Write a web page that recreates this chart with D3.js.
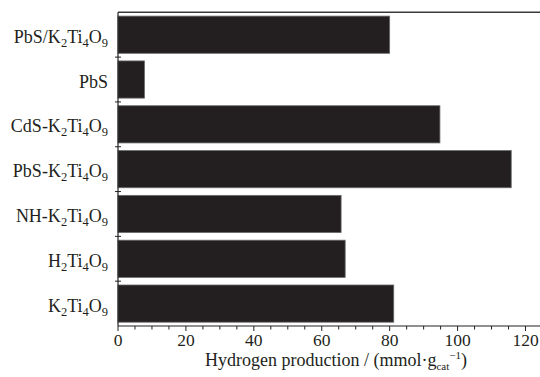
<!DOCTYPE html>
<html><head><meta charset="utf-8">
<script src="https://cdn.jsdelivr.net/npm/d3@7"></script>
<style>html,body{margin:0;padding:0;background:#fff;}svg{display:block;}</style>
</head><body>
<svg id="c" width="540" height="377"></svg>
<script>
const categories = ["PbS/K_2Ti_4O_9", "PbS", "CdS-K_2Ti_4O_9", "PbS-K_2Ti_4O_9", "NH-K_2Ti_4O_9", "H_2Ti_4O_9", "K_2Ti_4O_9"];
const values = [80, 7.8, 94.8, 115.8, 65.7, 66.9, 81.2];
const xTicks = [0, 20, 40, 60, 80, 100, 120];
const xMinorTicks = d3.range(0, 121, 5);
const xTitle = "Hydrogen production / (mmol·g";

(function () {
const svg = d3.select("#c");
const font = "'Liberation Serif','Times New Roman',serif";
const mLeft = 118, mRight = 540, mTop = 12.3, mBottom = 326;
const x = d3.scaleLinear().domain([0, 120]).range([mLeft, 525.5]);
const y = d3.scaleBand().domain(categories).range([mTop, mBottom]).paddingInner(0.17).paddingOuter(0.085);
const yb = d3.scaleBand().domain(categories).range([mTop, mBottom]);

// bars
svg.append("g").selectAll("rect").data(categories).join("rect")
  .attr("x", x(0)).attr("y", d => y(d))
  .attr("width", (d, i) => x(values[i]) - x(0)).attr("height", y.bandwidth())
  .attr("fill", "#231f20").attr("stroke", "#6a6a6a").attr("stroke-width", 0.8);

// top frame line
svg.append("line").attr("x1", mLeft).attr("x2", mRight).attr("y1", mTop).attr("y2", mTop)
  .attr("stroke", "#3a3a3a").attr("stroke-width", 1.5);

// x axis
const xAxis = svg.append("g").attr("transform", `translate(0,${mBottom})`);
xAxis.append("line").attr("x1", mLeft).attr("x2", mRight).attr("stroke", "#222").attr("stroke-width", 1.2);
xAxis.selectAll("line.minor").data(xMinorTicks).join("line").attr("class", "minor")
  .attr("x1", d => x(d)).attr("x2", d => x(d)).attr("y1", 0)
  .attr("y2", d => xTicks.includes(d) ? 5 : 3.5).attr("stroke", "#222").attr("stroke-width", 1);
xAxis.selectAll("text").data(xTicks).join("text")
  .attr("x", d => x(d)).attr("y", 20).attr("text-anchor", "middle")
  .attr("font-family", font).attr("font-size", 17.5).attr("fill", "#231f20").text(d => d);

// y axis
svg.append("line").attr("x1", mLeft).attr("x2", mLeft).attr("y1", mTop).attr("y2", mBottom)
  .attr("stroke", "#222").attr("stroke-width", 1.2);
svg.append("g").selectAll("line").data(categories.slice(1)).join("line")
  .attr("x1", mLeft - 3).attr("x2", mLeft + 3).attr("y1", d => yb(d)).attr("y2", d => yb(d))
  .attr("stroke", "#222").attr("stroke-width", 1);

// category labels with subscripts
function addRich(sel, str) {
  const parts = [];
  let i = 0;
  while (i < str.length) {
    if (str[i] === "_") { parts.push({t: str[i + 1], sub: true}); i += 2; }
    else { let j = i; while (j < str.length && str[j] !== "_") j++; parts.push({t: str.slice(i, j), sub: false}); i = j; }
  }
  let shifted = false;
  parts.forEach(p => {
    const ts = sel.append("tspan").text(p.t);
    if (p.sub) { ts.attr("font-size", 12.5).attr("dy", shifted ? 0 : 4); shifted = true; }
    else { ts.attr("dy", shifted ? -4 : 0); shifted = false; }
  });
}
const labels = svg.append("g");
categories.forEach(c => {
  const t = labels.append("text").attr("x", 108).attr("y", yb(c) + yb.bandwidth() / 2 + 8)
    .attr("text-anchor", "end").attr("font-family", font).attr("font-size", 18).attr("fill", "#231f20");
  addRich(t, c);
});

// x title
const tt = svg.append("text").attr("x", 336).attr("y", 366).attr("text-anchor", "middle")
  .attr("font-family", font).attr("font-size", 18).attr("fill", "#231f20");
tt.append("tspan").text(xTitle);
tt.append("tspan").attr("font-size", 11).attr("dy", 4).text("cat");
tt.append("tspan").attr("font-size", 11).attr("dy", -11).text("−1");
tt.append("tspan").attr("dy", 7).text(")");
})();
</script>
</body></html>
